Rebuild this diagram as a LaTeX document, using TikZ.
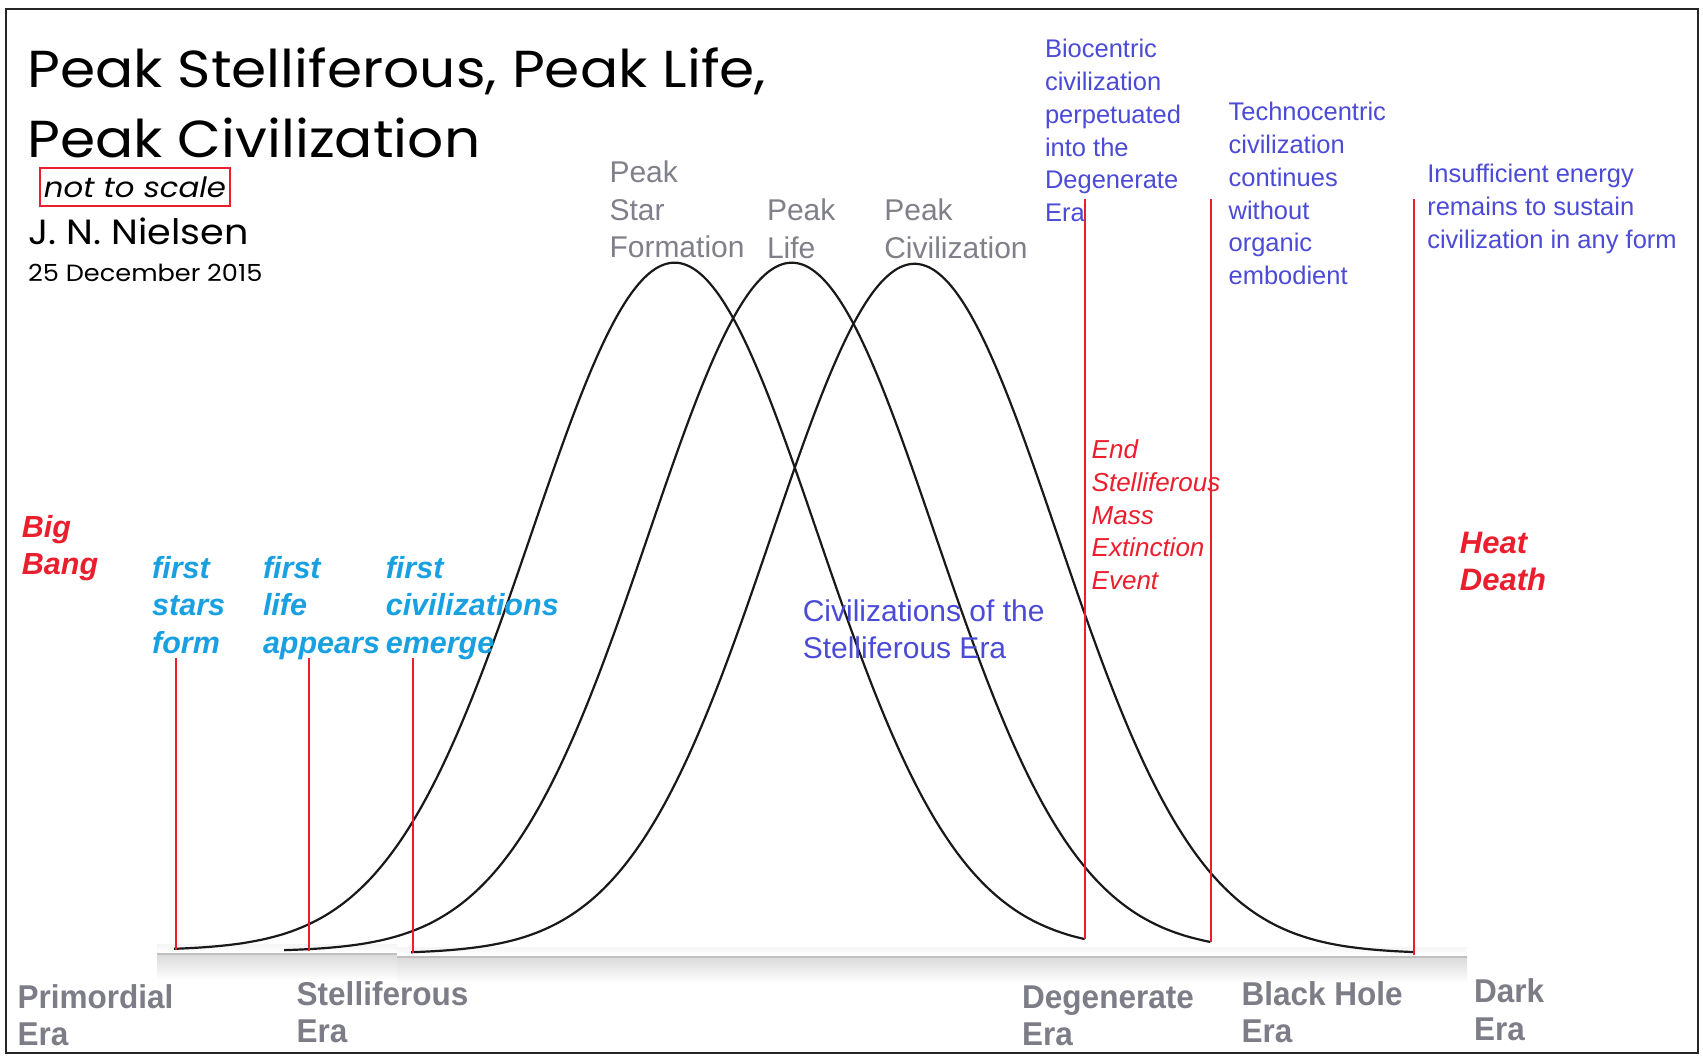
\documentclass[tikz,border=0pt]{standalone}
\usepackage{fontspec}
\setmainfont{Liberation Sans}
\newfontfamily\titlefont[FakeStretch=1.09]{Poppins}
\newfontfamily\scalefont[FakeStretch=1.1]{Poppins}
\newfontfamily\condfont[FakeStretch=0.955]{Liberation Sans}
\definecolor{mkred}{RGB}{235,30,45}
\definecolor{mkcyan}{RGB}{25,160,225}
\definecolor{mkblue}{RGB}{75,75,215}
\definecolor{mkgray}{RGB}{128,128,138}
\definecolor{eragray}{RGB}{125,125,135}
\tikzset{
  blk/.style={anchor=north west, inner sep=0pt, align=left},
  one/.style={anchor=base west, inner sep=0pt},
  redline/.style={draw=mkred, line width=1.6pt},
  bell/.style={draw=black!90, line width=2.2pt, smooth},
  peaklbl/.style={blk, text=mkgray, font=\fontsize{30}{37.5}\selectfont},
  bluelbl/.style={blk, text=mkblue, font=\fontsize{25.5}{32.8}\selectfont},
  cyanlbl/.style={blk, text=mkcyan, font=\bfseries\itshape\fontsize{30.5}{37.5}\selectfont},
  eralbl/.style={blk, text=eragray, font=\condfont\bfseries\fontsize{33}{37.5}\selectfont},
}
\begin{document}
\begin{tikzpicture}[x=1pt,y=-1pt]
\useasboundingbox (0,0) rectangle (1703,1058);
\fill[white] (0,0) rectangle (1703,1058);
\draw[line width=2.2pt, black!85] (6,9) rectangle (1698,1053);

% baseline bar with soft shadow
\shade[top color=black!4, bottom color=white] (157,944) rectangle (397,953);
\shade[top color=black!14, bottom color=white] (157,955) rectangle (397,980);
\shade[top color=black!4, bottom color=white] (397,947) rectangle (1467,956);
\shade[top color=black!14, bottom color=white] (397,958) rectangle (1467,983);
\draw[black!25, line width=1.6pt] (157,954) -- (397,954);
\draw[black!25, line width=1.6pt] (397,957) -- (1467,957);

% bell curves
\draw[bell] plot[domain=-3.5:2.87, samples=160] ({674.5+143*\x}, {950.3-687.5*exp(-\x*\x/2)});
\draw[bell] plot[domain=-3.55:2.93, samples=160] ({791.8+143*\x}, {951.4-688.6*exp(-\x*\x/2)});
\draw[bell] plot[domain=-3.52:3.5, samples=160] ({914.5+143*\x}, {953.6-689.7*exp(-\x*\x/2)});

% red marker lines
\coordinate (fs-t) at (176,658);  \coordinate (fs-b) at (176,950);
\coordinate (fl-t) at (309,658);  \coordinate (fl-b) at (309,951);
\coordinate (fc-t) at (413,658);  \coordinate (fc-b) at (413,953);
\coordinate (dg-t) at (1085,199); \coordinate (dg-b) at (1085,939);
\coordinate (bh-t) at (1211,199); \coordinate (bh-b) at (1211,942);
\coordinate (dk-t) at (1414,199); \coordinate (dk-b) at (1414,955);
\draw[redline] (fs-t) -- (fs-b);
\draw[redline] (fl-t) -- (fl-b);
\draw[redline] (fc-t) -- (fc-b);
\draw[redline] (dg-t) -- (dg-b);
\draw[redline] (bh-t) -- (bh-b);
\draw[redline] (dk-t) -- (dk-b);

% title block
\node[blk, font=\titlefont\fontsize{52}{70.6}\selectfont] (title) at (27,37.5)
  {\strut Peak Stelliferous, Peak Life,\\\strut Peak Civilization};
\node[draw=mkred, line width=1.4pt, inner sep=0pt, minimum width=190pt, minimum height=38pt,
      font=\scalefont\itshape\fontsize{28}{30}\selectfont] (scale) at (135,187) {not to scale};
\node[one, font=\titlefont\fontsize{35}{44}\selectfont] (author) at (28,244.4) {J. N. Nielsen};
\node[one, font=\titlefont\fontsize{23.5}{28}\selectfont] (date) at (28,281) {25 December 2015};

% peak labels
\node[peaklbl] (pstar) at (609.3,156.3) {\strut Peak\\\strut Star\\\strut Formation};
\node[peaklbl] (plife) at (766.8,194.3) {\strut Peak\\\strut Life};
\node[peaklbl] (pciv) at (884.1,194.3) {\strut Peak\\\strut Civilization};

% blue annotations
\node[bluelbl] (bio) at (1044.8,34.6) {\strut Biocentric\\\strut civilization\\\strut perpetuated\\\strut into the\\\strut Degenerate\\\strut Era};
\node[bluelbl] (tech) at (1228.4,97.6) {\strut Technocentric\\\strut civilization\\\strut continues\\\strut without\\\strut organic\\\strut embodient};
\node[bluelbl] (insuf) at (1427.1,159.5) {\strut Insufficient energy\\\strut remains to sustain\\\strut civilization in any form};
\node[blk, text=mkblue, font=\fontsize{30}{37}\selectfont] (civst) at (802.6,595) {\strut Civilizations of the\\\strut Stelliferous Era};

% red event labels
\node[blk, text=mkred, font=\bfseries\itshape\fontsize{30.5}{37}\selectfont] (bigbang) at (21.7,511.7) {\strut Big\\\strut Bang};
\node[blk, text=mkred, font=\itshape\fontsize{26}{32.8}\selectfont] (endst) at (1091.5,435.3) {\strut End\\\strut Stelliferous\\\strut Mass\\\strut Extinction\\\strut Event};
\node[blk, text=mkred, font=\bfseries\itshape\fontsize{31}{37}\selectfont] (heat) at (1459.7,527) {\strut Heat\\\strut Death};

% cyan first-events
\node[cyanlbl] (fstars) at (152,551.6) {\strut first\\\strut stars\\\strut form};
\node[cyanlbl] (flife) at (262.8,551.6) {\strut first\\\strut life\\\strut appears};
\node[cyanlbl] (fciv) at (385.6,551.6) {\strut first\\\strut civilizations\\\strut emerge};

% era labels
\node[eralbl] (primo) at (17.4,982) {\strut Primordial\\\strut Era};
\node[eralbl] (stell) at (296.5,978.6) {\strut Stelliferous\\\strut Era};
\node[eralbl] (degen) at (1022,982) {\strut Degenerate\\\strut Era};
\node[eralbl] (black) at (1241.4,978.6) {\strut Black Hole\\\strut Era};
\node[eralbl] (dark) at (1473.8,976.5) {\strut Dark\\\strut Era};
\end{tikzpicture}
\end{document}
